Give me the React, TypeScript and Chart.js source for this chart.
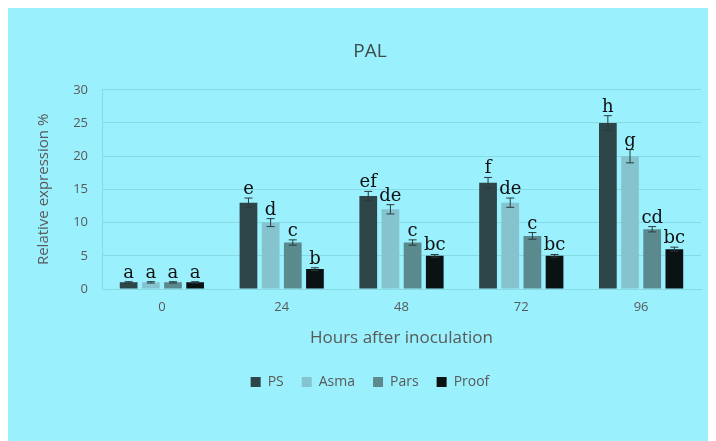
import React, { useEffect, useRef } from "react";
import { Chart, registerables } from "chart.js";

Chart.register(...registerables);

const categories = ["0", "24", "48", "72", "96"];
const seriesNames = ["PS", "Asma", "Pars", "Proof"];
const seriesColors = ["#2E4549", "#85C4CF", "#5B8A8E", "#0B1213"];

const psValues = [1, 13, 14, 16, 25];
const asmaValues = [1, 10, 12, 13, 20];
const parsValues = [1, 7, 7, 8, 9];
const proofValues = [1, 3, 5, 5, 6];

const psErrors = [0.1, 0.7, 0.7, 0.8, 1.1];
const asmaErrors = [0.1, 0.6, 0.7, 0.7, 1.0];
const parsErrors = [0.1, 0.4, 0.4, 0.5, 0.4];
const proofErrors = [0.1, 0.2, 0.2, 0.2, 0.3];

const psLetters = ["a", "e", "ef", "f", "h"];
const asmaLetters = ["a", "d", "de", "de", "g"];
const parsLetters = ["a", "c", "c", "c", "cd"];
const proofLetters = ["a", "b", "bc", "bc", "bc"];

const yTicks = [0, 5, 10, 15, 20, 25, 30];

const allValues = [psValues, asmaValues, parsValues, proofValues];
const allErrors = [psErrors, asmaErrors, parsErrors, proofErrors];
const allLetters = [psLetters, asmaLetters, parsLetters, proofLetters];

const errorBarPlugin = {
  id: "errorBars",
  afterDatasetsDraw(chart: any) {
    const ctx = chart.ctx;
    const yScale = chart.scales.y;
    ctx.save();
    chart.data.datasets.forEach((ds: any, di: number) => {
      const meta = chart.getDatasetMeta(di);
      meta.data.forEach((el: any, i: number) => {
        const v = allValues[di][i];
        const e = allErrors[di][i];
        const x = el.x;
        const yTop = yScale.getPixelForValue(v + e);
        const yBot = yScale.getPixelForValue(v - e);
        ctx.strokeStyle = "#2A3A3D";
        ctx.lineWidth = 1;
        ctx.beginPath();
        ctx.moveTo(x, yTop);
        ctx.lineTo(x, yBot);
        ctx.moveTo(x - 4, yTop);
        ctx.lineTo(x + 4, yTop);
        ctx.moveTo(x - 4, yBot);
        ctx.lineTo(x + 4, yBot);
        ctx.stroke();
        ctx.fillStyle = "#111111";
        ctx.font = "18px 'DejaVu Serif'";
        ctx.textAlign = "center";
        ctx.textBaseline = "alphabetic";
        ctx.fillText(allLetters[di][i], x, yTop - 4);
      });
    });
    ctx.restore();
  },
};

export default function App() {
  const canvasRef = useRef<HTMLCanvasElement | null>(null);

  useEffect(() => {
    if (!canvasRef.current) return;
    const chart = new Chart(canvasRef.current, {
      type: "bar",
      data: {
        labels: categories,
        datasets: seriesNames.map((name, i) => ({
          label: name,
          data: allValues[i],
          backgroundColor: seriesColors[i],
          borderWidth: 0,
          categoryPercentage: 0.74,
          barPercentage: 0.8,
        })),
      },
      options: {
        animation: false,
        responsive: true,
        maintainAspectRatio: false,
        layout: { padding: { left: 31, right: 15, top: 0, bottom: 42 } },
        plugins: {
          title: {
            display: true,
            text: "PAL",
            color: "#3F4A4C",
            font: { family: "'Open Sans'", size: 19, weight: "normal" },
            padding: { top: 32, bottom: 27 },
          },
          legend: {
            position: "bottom",
            labels: {
              boxWidth: 10,
              boxHeight: 10,
              padding: 18,
              color: "#595959",
              font: { family: "'Open Sans'", size: 14 },
            },
          },
          tooltip: { enabled: false },
        },
        scales: {
          x: {
            grid: { display: false, drawTicks: false },
            border: { display: true, color: "#86DAE6" },
            ticks: {
              color: "#595959",
              font: { family: "'Open Sans'", size: 13 },
              padding: 10,
            },
            title: {
              display: true,
              text: "Hours after inoculation",
              color: "#595959",
              font: { family: "'Open Sans'", size: 17 },
              padding: { top: 3, bottom: 9 },
            },
          },
          y: {
            min: 0,
            max: 30,
            afterBuildTicks: (scale: any) => {
              scale.ticks = yTicks.map((v) => ({ value: v }));
            },
            afterFit: (scale: any) => {
              scale.width = 63;
            },
            grid: { color: "#86DAE6", drawTicks: false },
            border: { display: true, color: "#86DAE6" },
            ticks: {
              color: "#595959",
              font: { family: "'Open Sans'", size: 13 },
              padding: 14,
            },
            title: {
              display: true,
              text: "Relative expression %",
              color: "#595959",
              font: { family: "'Open Sans'", size: 15 },
              padding: { top: -4, bottom: 0 },
            },
          },
        },
      },
      plugins: [errorBarPlugin],
    });
    return () => chart.destroy();
  }, []);

  return (
    <div style={{ width: 708, height: 433, background: "#9AF0FC" }}>
      <canvas ref={canvasRef} />
    </div>
  );
}
